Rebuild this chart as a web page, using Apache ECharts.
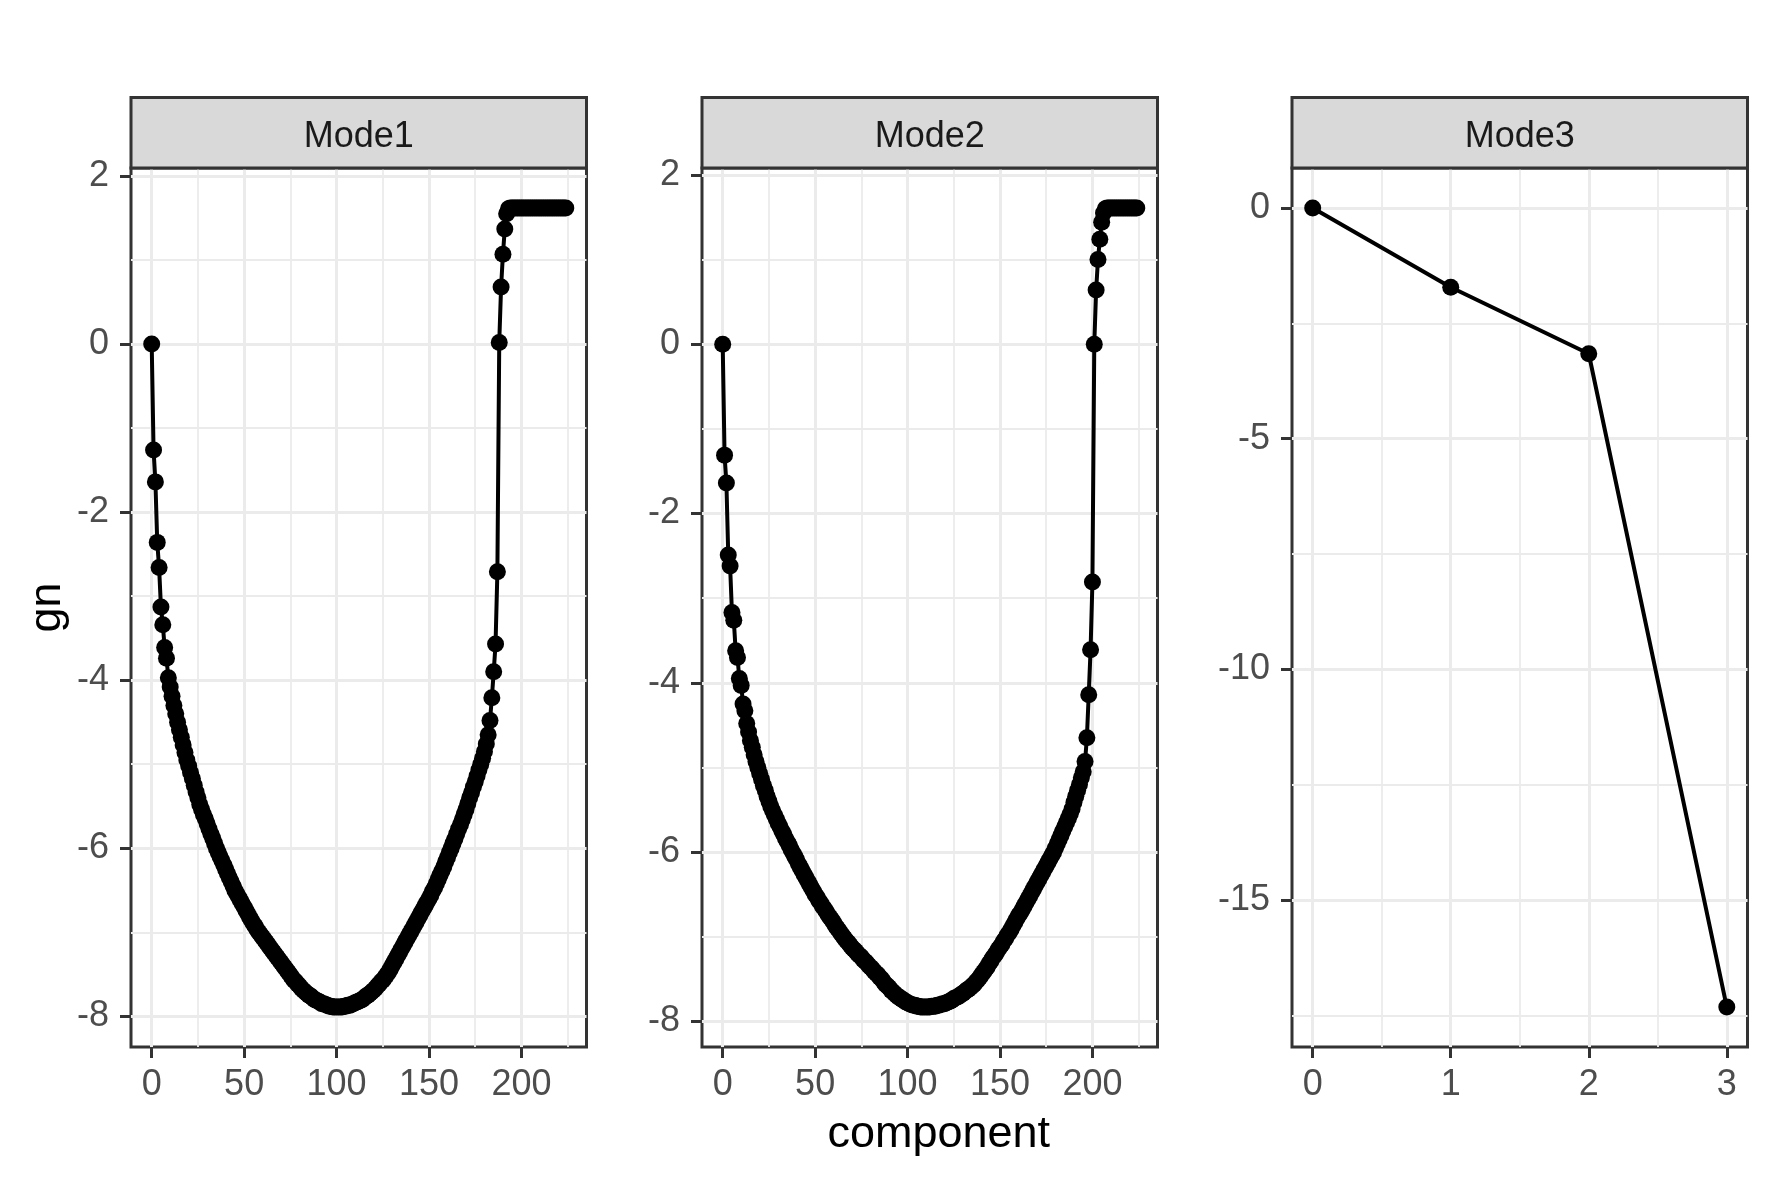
<!DOCTYPE html>
<html>
<head>
<meta charset="utf-8">
<title>gn by component</title>
<script src="https://cdn.jsdelivr.net/npm/echarts@6/dist/echarts.min.js"></script>
<style>
	html, body { margin: 0; padding: 0; background: #fff; }
	#main { width: 1771px; height: 1181px; }
</style>
</head>
<body>
<div id="main"></div>
<script>
// facet names
var panelNames = ['Mode1', 'Mode2', 'Mode3'];

// gn per component
var mode1 = [
	0, -1.26, -1.64, -2.36, -2.66, -3.13, -3.34, -3.61, -3.74, -3.97,
	-4.08, -4.19, -4.30, -4.40, -4.50, -4.59, -4.68, -4.77, -4.86, -4.95,
	-5.02, -5.10, -5.17, -5.25, -5.33, -5.40, -5.48, -5.54, -5.60, -5.65,
	-5.71, -5.77, -5.83, -5.88, -5.94, -6.00, -6.05, -6.10, -6.15, -6.20,
	-6.25, -6.30, -6.35, -6.40, -6.45, -6.50, -6.54, -6.58, -6.62, -6.66,
	-6.70, -6.74, -6.78, -6.82, -6.86, -6.90, -6.93, -6.97, -7.00, -7.03,
	-7.06, -7.09, -7.12, -7.15, -7.18, -7.21, -7.24, -7.27, -7.30, -7.33,
	-7.36, -7.39, -7.42, -7.45, -7.48, -7.51, -7.54, -7.57, -7.59, -7.62,
	-7.64, -7.67, -7.69, -7.71, -7.73, -7.75, -7.76, -7.78, -7.80, -7.81,
	-7.82, -7.83, -7.85, -7.85, -7.86, -7.87, -7.88, -7.88, -7.89, -7.89,
	-7.89, -7.89, -7.89, -7.89, -7.88, -7.88, -7.87, -7.87, -7.86, -7.85,
	-7.84, -7.83, -7.82, -7.81, -7.80, -7.78, -7.76, -7.75, -7.73, -7.71,
	-7.69, -7.67, -7.64, -7.62, -7.59, -7.57, -7.54, -7.51, -7.48, -7.44,
	-7.40, -7.36, -7.32, -7.28, -7.24, -7.20, -7.16, -7.12, -7.08, -7.04,
	-7.00, -6.96, -6.92, -6.88, -6.84, -6.80, -6.76, -6.72, -6.68, -6.64,
	-6.60, -6.56, -6.51, -6.47, -6.42, -6.37, -6.32, -6.27, -6.22, -6.16,
	-6.11, -6.05, -6.00, -5.94, -5.89, -5.83, -5.77, -5.72, -5.66, -5.60,
	-5.54, -5.47, -5.40, -5.34, -5.27, -5.21, -5.14, -5.07, -5.00, -4.93,
	-4.85, -4.76, -4.65, -4.48, -4.21, -3.90, -3.57, -2.71, 0.02, 0.68,
	1.07, 1.37, 1.55, 1.61, 1.62, 1.62, 1.62, 1.62, 1.62, 1.62,
	1.62, 1.62, 1.62, 1.62, 1.62, 1.62, 1.62, 1.62, 1.62, 1.62,
	1.62, 1.62, 1.62, 1.62, 1.62, 1.62, 1.62, 1.62, 1.62, 1.62,
	1.62, 1.62, 1.62, 1.62, 1.62
];

var mode2 = [
	0, -1.31, -1.64, -2.49, -2.62, -3.17, -3.26, -3.62, -3.70, -3.95,
	-4.03, -4.25, -4.33, -4.48, -4.58, -4.68, -4.76, -4.85, -4.93, -5.00,
	-5.07, -5.14, -5.21, -5.27, -5.34, -5.40, -5.46, -5.51, -5.56, -5.61,
	-5.66, -5.70, -5.75, -5.79, -5.84, -5.88, -5.92, -5.97, -6.01, -6.05,
	-6.09, -6.14, -6.18, -6.22, -6.26, -6.30, -6.34, -6.38, -6.42, -6.46,
	-6.50, -6.53, -6.57, -6.60, -6.64, -6.67, -6.70, -6.74, -6.77, -6.80,
	-6.83, -6.87, -6.90, -6.93, -6.96, -6.99, -7.02, -7.05, -7.07, -7.10,
	-7.13, -7.15, -7.17, -7.20, -7.22, -7.24, -7.27, -7.29, -7.31, -7.34,
	-7.36, -7.38, -7.41, -7.43, -7.45, -7.48, -7.50, -7.53, -7.56, -7.58,
	-7.60, -7.63, -7.65, -7.67, -7.69, -7.71, -7.72, -7.74, -7.75, -7.77,
	-7.78, -7.79, -7.80, -7.81, -7.81, -7.82, -7.82, -7.83, -7.83, -7.83,
	-7.83, -7.83, -7.83, -7.82, -7.82, -7.82, -7.81, -7.81, -7.80, -7.79,
	-7.79, -7.78, -7.77, -7.76, -7.75, -7.73, -7.72, -7.71, -7.70, -7.68,
	-7.67, -7.65, -7.63, -7.62, -7.60, -7.58, -7.56, -7.53, -7.51, -7.48,
	-7.45, -7.42, -7.39, -7.36, -7.32, -7.29, -7.25, -7.22, -7.19, -7.15,
	-7.12, -7.09, -7.05, -7.02, -6.98, -6.95, -6.91, -6.87, -6.83, -6.79,
	-6.75, -6.72, -6.68, -6.64, -6.60, -6.56, -6.52, -6.48, -6.44, -6.40,
	-6.36, -6.32, -6.28, -6.24, -6.20, -6.16, -6.12, -6.08, -6.04, -6.00,
	-5.95, -5.90, -5.85, -5.80, -5.75, -5.70, -5.65, -5.60, -5.55, -5.49,
	-5.41, -5.34, -5.27, -5.20, -5.12, -5.05, -4.93, -4.65, -4.14, -3.61,
	-2.81, 0.00, 0.64, 1.00, 1.24, 1.44, 1.55, 1.60, 1.61, 1.61,
	1.61, 1.61, 1.61, 1.61, 1.61, 1.61, 1.61, 1.61, 1.61, 1.61,
	1.61, 1.61, 1.61, 1.61, 1.61
];

var mode3 = [0, -1.72, -3.16, -17.32];

// tick labels (major) and minor grid positions per panel
var xTicks = [[0, 50, 100, 150, 200], [0, 50, 100, 150, 200], [0, 1, 2, 3]];
var xMinor = [[25, 75, 125, 175, 225], [25, 75, 125, 175, 225], [0.5, 1.5, 2.5]];
var yTicks = [[-8, -6, -4, -2, 0, 2], [-8, -6, -4, -2, 0, 2], [-15, -10, -5, 0]];
var yMinor = [[-7, -5, -3, -1, 1], [-7, -5, -3, -1, 1], [-17.5, -12.5, -7.5, -2.5]];

var chart = echarts.init(document.getElementById('main'));

var FONT = '"Liberation Sans", Arial, sans-serif';
var panelLeft = [131, 702, 1292];
var panelWidth = 455.5;
var panelTop = 168;
var panelHeight = 879;
var stripTop = 97.5;
var stripHeight = 70.5;

// ggplot style 5% expansion on both ends
function expand(lo, hi) {
	var d = (hi - lo) * 0.05;
	return [lo - d, hi + d];
}

function toPairs(values) {
	return values.map(function(v, i) {
		return [i, v];
	});
}

var allData = [mode1, mode2, mode3];
var grids = [], xAxes = [], yAxes = [], series = [], graphics = [];

for (var i = 0; i < 3; i++) {
	var vals = allData[i];
	var xr = expand(0, vals.length - 1);
	var yr = expand(Math.min.apply(null, vals), Math.max.apply(null, vals));

	grids.push({
		left: panelLeft[i],
		top: panelTop,
		width: panelWidth,
		height: panelHeight,
		show: true,
		backgroundColor: '#fff',
		borderColor: '#333333',
		borderWidth: 3
	});

	// major x axis: ticks, labels, major grid
	xAxes.push({
		type: 'value',
		gridIndex: i,
		position: 'bottom',
		min: xr[0],
		max: xr[1],
		axisLine: { show: false, onZero: false },
		axisTick: {
			show: true,
			length: 11,
			customValues: xTicks[i],
			lineStyle: { color: '#333333', width: 3 }
		},
		axisLabel: {
			customValues: xTicks[i],
			color: '#4D4D4D',
			fontSize: 36,
			fontFamily: FONT,
			margin: 20
		},
		splitLine: { show: true, lineStyle: { color: '#EBEBEB', width: 3 } },
		name: i == 1 ? 'component' : '',
		nameLocation: 'middle',
		nameGap: 65,
		nameTextStyle: { fontSize: 45, color: '#000', fontFamily: FONT, padding: [0, 0, 0, 18] }
	});
	// minor x grid only
	xAxes.push({
		type: 'value',
		gridIndex: i,
		position: 'bottom',
		min: xr[0],
		max: xr[1],
		axisLine: { show: false, onZero: false },
		axisTick: { show: false, customValues: xMinor[i] },
		axisLabel: { show: false, customValues: xMinor[i] },
		splitLine: { show: true, lineStyle: { color: '#EBEBEB', width: 1.8 } }
	});

	yAxes.push({
		type: 'value',
		gridIndex: i,
		position: 'left',
		min: yr[0],
		max: yr[1],
		axisLine: { show: false, onZero: false },
		axisTick: {
			show: true,
			length: 11,
			customValues: yTicks[i],
			lineStyle: { color: '#333333', width: 3 }
		},
		axisLabel: {
			customValues: yTicks[i],
			color: '#4D4D4D',
			fontSize: 36,
			fontFamily: FONT,
			margin: 22
		},
		splitLine: { show: true, lineStyle: { color: '#EBEBEB', width: 3 } },
		name: i == 0 ? 'gn' : '',
		nameLocation: 'middle',
		nameGap: 61,
		nameTextStyle: { fontSize: 45, color: '#000', fontFamily: FONT }
	});
	yAxes.push({
		type: 'value',
		gridIndex: i,
		position: 'left',
		min: yr[0],
		max: yr[1],
		axisLine: { show: false, onZero: false },
		axisTick: { show: false, customValues: yMinor[i] },
		axisLabel: { show: false, customValues: yMinor[i] },
		splitLine: { show: true, lineStyle: { color: '#EBEBEB', width: 1.8 } }
	});

	series.push({
		name: panelNames[i],
		type: 'line',
		xAxisIndex: i * 2,
		yAxisIndex: i * 2,
		data: toPairs(vals),
		symbol: 'circle',
		symbolSize: 17,
		itemStyle: { color: '#000' },
		lineStyle: { color: '#000', width: 4 },
		z: 5
	});

	// facet strip
	graphics.push({
		type: 'rect',
		shape: { x: panelLeft[i], y: stripTop, width: panelWidth, height: stripHeight },
		style: { fill: '#D9D9D9', stroke: '#333333', lineWidth: 3 },
		z: 10
	});
	graphics.push({
		type: 'text',
		x: panelLeft[i] + panelWidth / 2,
		y: stripTop + stripHeight / 2 + 4,
		style: {
			text: panelNames[i],
			fontSize: 36,
			fontFamily: FONT,
			fill: '#1A1A1A',
			align: 'center',
			verticalAlign: 'middle'
		},
		z: 11
	});
}

chart.setOption({
	animation: false,
	backgroundColor: '#fff',
	textStyle: { fontFamily: FONT },
	grid: grids,
	xAxis: xAxes,
	yAxis: yAxes,
	series: series,
	graphic: graphics
});
</script>
</body>
</html>
